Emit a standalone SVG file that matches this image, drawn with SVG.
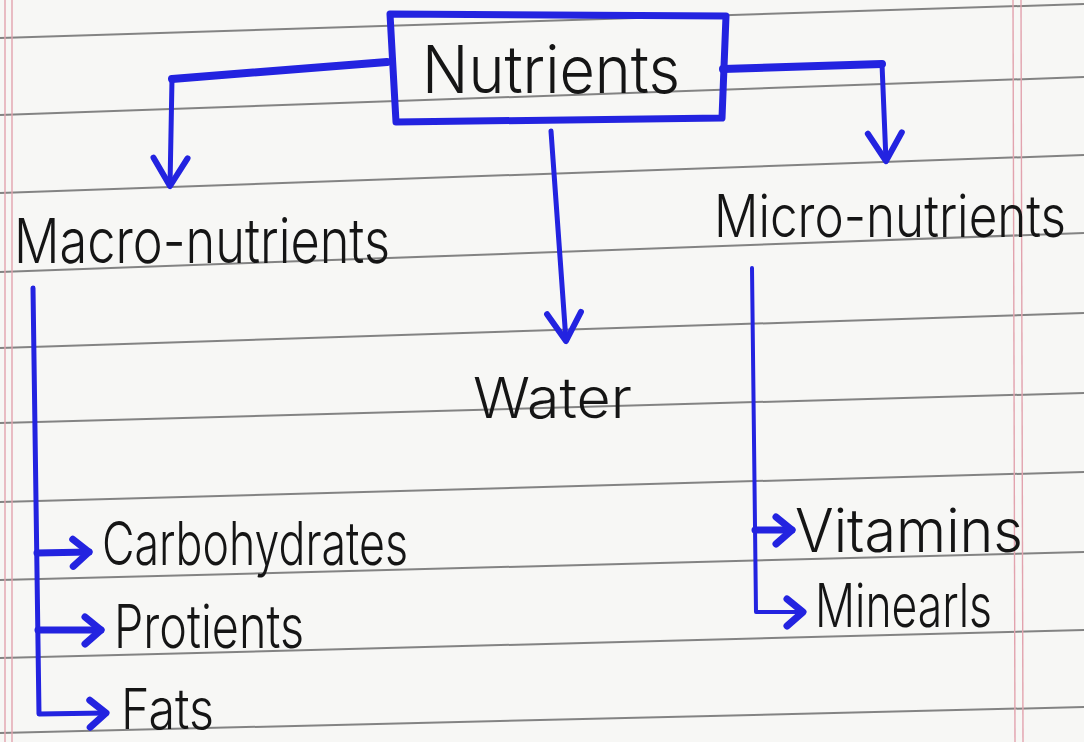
<svg xmlns="http://www.w3.org/2000/svg" width="1084" height="742" viewBox="0 0 1084 742">
<style>
.rule{stroke:#6e6e6e;stroke-width:2;fill:none;opacity:0.85}
.margin{stroke:#e2a3ae;stroke-width:1.4;fill:none}
.conn{stroke:#2323e0;fill:none;stroke-linecap:round;stroke-linejoin:round}
.box{stroke:#2323e0;fill:none;stroke-width:7;stroke-linejoin:round}
.lbl{font-family:Inter,"Liberation Sans",sans-serif;font-weight:300;fill:#151515}
</style>
<defs>
<marker id="vbig" viewBox="-34 -24 40 48" refX="0" refY="0" markerWidth="40" markerHeight="48" markerUnits="userSpaceOnUse" orient="auto" overflow="visible">
<path d="M-28,-17 L0,0 L-28,17" fill="none" stroke="#2323e0" stroke-width="6" stroke-linecap="round" stroke-linejoin="round"/>
</marker>
<marker id="vsmall" viewBox="-22 -18 28 36" refX="0" refY="0" markerWidth="28" markerHeight="36" markerUnits="userSpaceOnUse" orient="auto" overflow="visible">
<path d="M-16,-13 L0,0 L-16,14" fill="none" stroke="#2323e0" stroke-width="7" stroke-linecap="round" stroke-linejoin="round"/>
</marker>
</defs>
<rect x="0" y="0" width="1084" height="742" fill="#f7f7f5"/>
<g id="paper">
<line class="rule" x1="0" y1="38" x2="1084" y2="4"/>
<line class="rule" x1="0" y1="115" x2="1084" y2="77"/>
<line class="rule" x1="0" y1="193" x2="1084" y2="155"/>
<line class="rule" x1="0" y1="272" x2="1084" y2="233"/>
<line class="rule" x1="0" y1="348" x2="1084" y2="313"/>
<line class="rule" x1="0" y1="423" x2="1084" y2="393"/>
<line class="rule" x1="0" y1="502" x2="1084" y2="472"/>
<line class="rule" x1="0" y1="580" x2="1084" y2="552"/>
<line class="rule" x1="0" y1="658" x2="1084" y2="630"/>
<line class="rule" x1="0" y1="733" x2="1084" y2="707"/>
<line class="margin" x1="5" y1="0" x2="5" y2="742"/>
<line class="margin" x1="12" y1="0" x2="12" y2="742"/>
<line class="margin" x1="1013" y1="0" x2="1015" y2="742"/>
<line class="margin" x1="1021" y1="0" x2="1023" y2="742"/>
</g>
<g id="connectors">
<path class="conn" stroke-width="8" d="M387,62 L172,79"/>
<path class="conn" stroke-width="5" d="M172,79 L170,186" marker-end="url(#vbig)"/>
<path class="conn" stroke-width="8" d="M723,69 L882,64"/>
<path class="conn" stroke-width="5" d="M882,64 L886,161" marker-end="url(#vbig)"/>
<path class="conn" stroke-width="5" d="M551,131 L566,341" marker-end="url(#vbig)"/>
<path class="conn" stroke-width="5" d="M33,288 L39,714 L106,713" marker-end="url(#vsmall)"/>
<path class="conn" stroke-width="7" d="M37,553 L89,552" marker-end="url(#vsmall)"/>
<path class="conn" stroke-width="7" d="M38,630 L101,630" marker-end="url(#vsmall)"/>
<path class="conn" stroke-width="4" d="M752,268 L756,612 L803,612" marker-end="url(#vsmall)"/>
<path class="conn" stroke-width="7" d="M755,530 L792,530" marker-end="url(#vsmall)"/>
</g>
<g id="node-nutrients">
<path class="box" d="M390,14 L726,16 L722,118 L396,122 Z"/>
<text class="lbl" x="422" y="93" font-size="66" textLength="258" lengthAdjust="spacingAndGlyphs">Nutrients</text>
</g>
<g id="node-macro">
<text class="lbl" x="14" y="263" font-size="62" textLength="376" lengthAdjust="spacingAndGlyphs">Macro-nutrients</text>
</g>
<g id="node-micro">
<text class="lbl" transform="translate(714,237) scale(1,1.3)" x="0" y="0" font-size="45" textLength="352" lengthAdjust="spacingAndGlyphs">Micro-nutrients</text>
</g>
<g id="node-water">
<text class="lbl" x="473" y="418" font-size="56" textLength="159" lengthAdjust="spacingAndGlyphs">Water</text>
</g>
<g id="node-carbohydrates">
<text class="lbl" x="102" y="565" font-size="60" textLength="306" lengthAdjust="spacingAndGlyphs">Carbohydrates</text>
</g>
<g id="node-protients">
<text class="lbl" x="114" y="648" font-size="60" textLength="190" lengthAdjust="spacingAndGlyphs">Protients</text>
</g>
<g id="node-fats">
<text class="lbl" x="121" y="729" font-size="56" textLength="93" lengthAdjust="spacingAndGlyphs">Fats</text>
</g>
<g id="node-vitamins">
<text class="lbl" x="795" y="552" font-size="60" textLength="228" lengthAdjust="spacingAndGlyphs">Vitamins</text>
</g>
<g id="node-minearls">
<text class="lbl" x="815" y="627" font-size="60" textLength="177" lengthAdjust="spacingAndGlyphs">Minearls</text>
</g>
</svg>
